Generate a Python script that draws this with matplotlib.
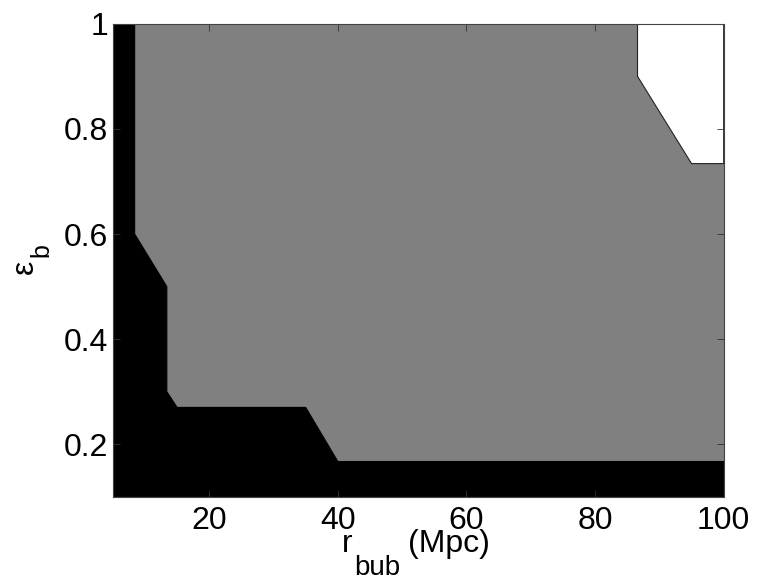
import matplotlib
matplotlib.use("Agg")
import matplotlib.pyplot as plt

plt.rcParams["font.family"] = ["Liberation Sans", "DejaVu Sans"]

# region boundaries (r_bub in Mpc, epsilon_b)
x_range = [5, 100]
y_range = [0.1, 1.0]

black_x = [5, 5, 8.4, 8.4, 13.4, 13.4, 15.0, 35.0, 40.0, 100, 100]
black_y = [0.1, 1.0, 1.0, 0.6, 0.5, 0.3, 0.27, 0.27, 0.167, 0.167, 0.1]

white_x = [86.6, 86.6, 95.0, 100, 100]
white_y = [1.0, 0.9, 0.734, 0.734, 1.0]

xticks = [20, 40, 60, 80, 100]
yticks = [0.2, 0.4, 0.6, 0.8, 1.0]
ytick_labels = ["0.2", "0.4", "0.6", "0.8", "1"]

W, H = 757, 581
fig = plt.figure(figsize=(W / 100, H / 100), dpi=100)
ax = fig.add_axes([0.149, 0.145, 0.807, 0.814])

# gray background region
ax.fill([x_range[0], x_range[0], x_range[1], x_range[1]],
        [y_range[0], y_range[1], y_range[1], y_range[0]],
        color="#808080", lw=0)
ax.fill(black_x, black_y, facecolor="black", edgecolor="black", lw=0.8)
ax.fill(white_x, white_y, facecolor="white", edgecolor="#222222", lw=0.8)

ax.set_xlim(x_range)
ax.set_ylim(y_range)
ax.set_xticks(xticks)
ax.set_yticks(yticks)
ax.set_yticklabels(ytick_labels)
ax.tick_params(direction="in", top=True, right=True, labelsize=23,
               length=5, width=0.6, color="#333333")
ax.tick_params(axis="x", pad=6.5)
ax.tick_params(axis="y", pad=3.5)
for s in ax.spines.values():
    s.set_linewidth(0.8)
    s.set_color("#444444")


def ftext(px, py, s, size, **kw):
    # place text by pixel position (origin top-left)
    fig.text(px / W, 1 - py / H, s, fontsize=size, ha="left",
             va="baseline", **kw)


# x label: r_bub (Mpc), subscript drawn MATLAB-style
ftext(342, 552, "r", 23)
ftext(354, 575, "bub", 20)
ftext(408, 552, "(Mpc)", 23)

# y label: epsilon_b, rotated
ftext(33, 274, "\u03b5", 23, rotation=90, rotation_mode="anchor")
ftext(48, 257, "b", 18, rotation=90, rotation_mode="anchor")

fig.savefig("out.png", dpi=100)
